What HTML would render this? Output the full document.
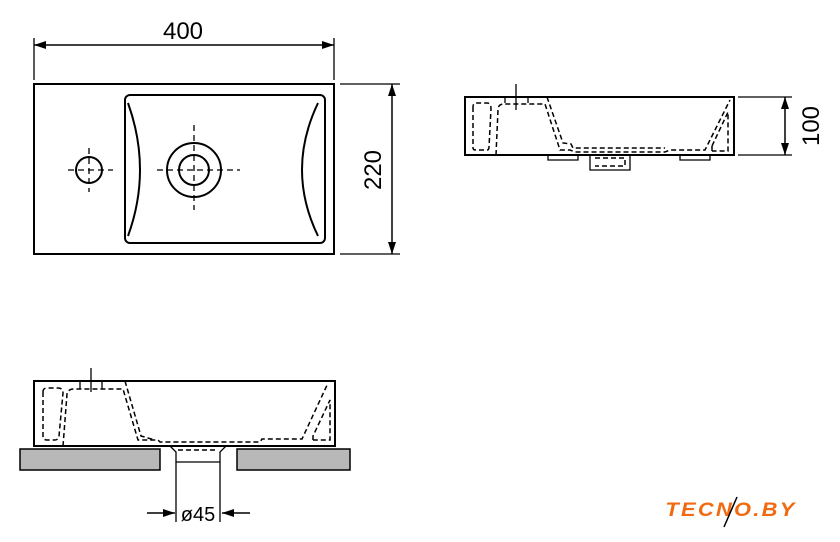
<!DOCTYPE html>
<html><head><style>body{margin:0;background:#fff}svg{display:block}</style></head><body>
<svg width="840" height="542" viewBox="0 0 840 542" xmlns="http://www.w3.org/2000/svg" font-family="Liberation Sans, sans-serif">
<defs><marker id="a" markerWidth="12" markerHeight="8" refX="12" refY="4" orient="auto-start-reverse" markerUnits="userSpaceOnUse"><path d="M0,0L12,4L0,8z" fill="#000"/></marker></defs>
<g fill="none" stroke="#000" stroke-width="2">
<rect x="34" y="84" width="300" height="170"/>
<rect x="125" y="95" width="200" height="148" rx="5"/>
<path d="M128,103 Q152,170 128,236"/>
<path d="M318,103 Q286,170 318,236"/>
<circle cx="89" cy="170" r="13"/>
<circle cx="194" cy="170" r="27"/>
<circle cx="194" cy="170" r="15"/>
<g stroke-width="1.3" stroke-dasharray="6,4"><path d="M68,170H113M89,148V192M157,170H240M194,125V210"/></g>
<path d="M34,38V80M334,38V80" stroke-width="1.3"/>
<path d="M34,45H334" stroke-width="1.5" marker-start="url(#a)" marker-end="url(#a)"/>
<path d="M340,84H400M340,254H400" stroke-width="1.3"/>
<path d="M392,84V254" stroke-width="1.5" marker-start="url(#a)" marker-end="url(#a)"/>
<rect x="465" y="97" width="269" height="58"/>
<path d="M548,155V160H578V155M590,155V170H630V155M680,155V160H710V155" stroke-width="1.3"/>
<g stroke-width="1.5" stroke-dasharray="5,3">
<path d="M473,107V148Q473,150 476,150H487Q489,150 489,147L491,109Q491,103 487,103H476Q473,103 473,107"/>
<path d="M496,155L498,110Q498,104 504,104H545L560,150H570L575,152H665L670,150H705L730,100"/>
<path d="M547,97L563,143L571,144L573,148H665"/>
<path d="M712,146V155M712,146L728,112V151H712"/>
<path d="M595,158H625V166H595"/>
</g>
<path d="M516,84V110M505,103V97M528,103V97" stroke-width="1.3"/>
<path d="M738,97H792M738,155H792" stroke-width="1.3"/>
<path d="M785,97V155" stroke-width="1.5" marker-start="url(#a)" marker-end="url(#a)"/>
<rect x="34" y="381" width="301" height="65"/>
<g stroke-width="1.5" stroke-dasharray="5,3">
<path d="M43,392V436Q43,440 47,440H55Q58,440 59,436L63,393Q63,388 58,388H47Q43,388 43,392"/>
<path d="M63,446L67,394Q68,389 74,389H123L138,440H158L160,442H260L262,439H302L328,383"/>
<path d="M125,381L141,436L155,440"/>
<path d="M313,440V436L330,400V440H313"/>
<path d="M178,450H218"/>
</g>
<path d="M80,381V389M102,381V389M91,368V392" stroke-width="1.3"/>
<path d="M170,446L176,452V462H220V452L226,446" stroke-width="1.3"/>
<path d="M176,462V522M220,462V522" stroke-width="1.3"/>
<path d="M147,513H175" stroke-width="1.5" marker-end="url(#a)"/>
<path d="M250,513H222" stroke-width="1.5" marker-end="url(#a)"/>
</g>
<rect x="20" y="449" width="140" height="21" fill="#b8b8b8" stroke="#000" stroke-width="1.5"/>
<rect x="237" y="449" width="113" height="21" fill="#b8b8b8" stroke="#000" stroke-width="1.5"/>
<g font-size="24" fill="#000">
<text x="183" y="39" text-anchor="middle">400</text>
<text transform="translate(381,170) rotate(-90)" text-anchor="middle">220</text>
<text transform="translate(819,126) rotate(-90)" text-anchor="middle">100</text>
<text x="198" y="521" text-anchor="middle" font-size="20">ø45</text>
</g>
<text x="731" y="516" text-anchor="middle" font-size="19" font-weight="bold" font-style="italic" fill="#f26a10" letter-spacing="2" transform="translate(731,0) scale(1.15,1) translate(-731,0)">TECNO.BY</text>
<path d="M737,497L724,527" stroke="#000" stroke-width="1.5"/>
</svg>
</body></html>
